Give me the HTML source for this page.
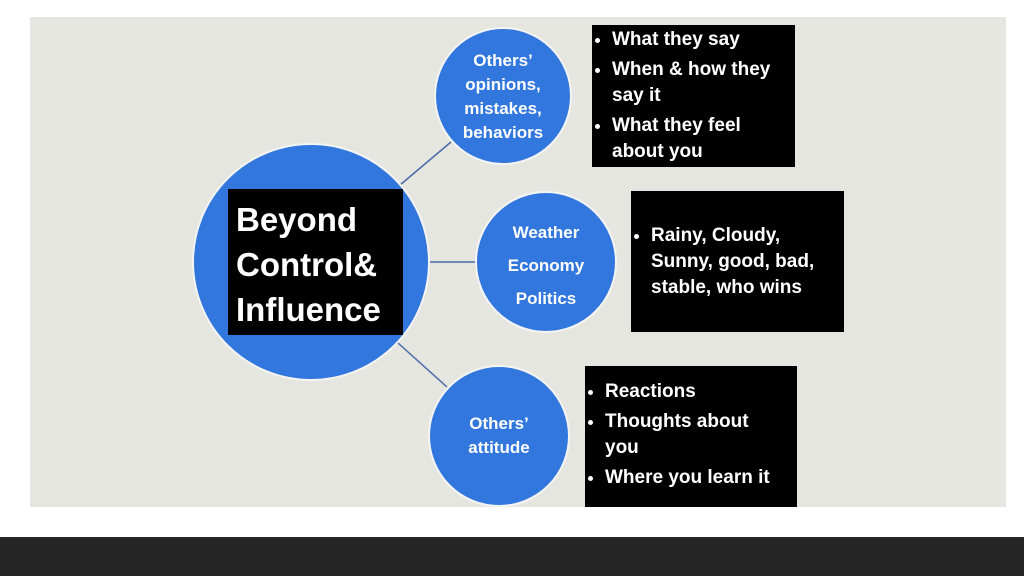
<!DOCTYPE html>
<html><head><meta charset="utf-8"><style>
body{margin:0;width:1024px;height:576px;background:#fff;position:relative;overflow:hidden;font-family:"Liberation Sans",sans-serif;}
.slide{position:absolute;left:30px;top:17px;width:976px;height:490px;background:#e6e6e1;}
.bar{position:absolute;left:0;top:537px;width:1024px;height:39px;background:#262626;}
svg{position:absolute;left:0;top:0;}
.t{position:absolute;color:#fff;font-weight:bold;text-align:center;}
.box{position:absolute;background:#000;color:#fff;font-weight:bold;font-size:19px;line-height:26px;}
.box ul{margin:0;padding:0 0 0 20px;}
.box li{margin:0 0 4px 0;}
</style></head><body>
<div class="slide"></div>
<div class="bar"></div>
<svg width="1024" height="576">
<g stroke="#4a6aa8" stroke-width="1.5">
<line x1="400" y1="185" x2="451" y2="142"/>
<line x1="429" y1="262" x2="476" y2="262"/>
<line x1="398" y1="343" x2="447" y2="387"/>
</g>
<g fill="#3277dd" stroke="#f4f4f4" stroke-width="2">
<circle cx="311" cy="262" r="118"/>
<circle cx="503" cy="96" r="68"/>
<circle cx="546" cy="262" r="70"/>
<circle cx="499" cy="436" r="70"/>
</g>
</svg>
<div class="box" style="left:228px;top:189px;width:175px;height:146px;font-size:33px;line-height:45px;padding:8px 0 0 8px;box-sizing:border-box;">Beyond<br>Control&amp;<br>Influence</div>
<div class="t" style="left:443px;top:49px;width:120px;font-size:17px;line-height:24px;">Others’<br>opinions,<br>mistakes,<br>behaviors</div>
<div class="t" style="left:486px;top:216px;width:120px;font-size:17px;line-height:33px;">Weather<br>Economy<br>Politics</div>
<div class="t" style="left:439px;top:412px;width:120px;font-size:17px;line-height:24px;">Others’<br>attitude</div>
<div class="box" style="left:592px;top:25px;width:203px;height:142px;padding-top:2px;box-sizing:border-box;"><ul><li>What they say</li><li>When &amp; how they say it</li><li>What they feel about you</li></ul></div>
<div class="box" style="left:631px;top:191px;width:213px;height:141px;padding-top:32px;box-sizing:border-box;"><ul><li>Rainy, Cloudy, Sunny, good, bad, stable, who wins</li></ul></div>
<div class="box" style="left:585px;top:366px;width:212px;height:141px;padding-top:13px;box-sizing:border-box;"><ul style="width:175px"><li>Reactions</li><li>Thoughts about you</li><li>Where you learn it</li></ul></div>
</body></html>
